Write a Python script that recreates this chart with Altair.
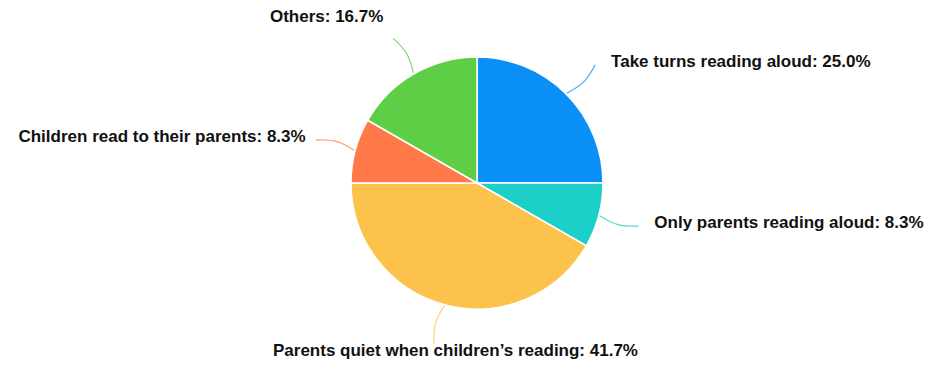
import altair as alt
import pandas as pd

categories = [
    "Take turns reading aloud",
    "Only parents reading aloud",
    "Parents quiet when children’s reading",
    "Children read to their parents",
    "Others",
]
shares = [25.0, 8.3, 41.7, 8.3, 16.7]
colors = ["#0A8FF7", "#1CCFC9", "#FCC24B", "#FF7A48", "#5DCE45"]

df = pd.DataFrame({"category": categories, "share": shares, "idx": list(range(len(categories)))})

CX, CY, R, R2 = 469, 175, 126, 167

color_scale = alt.Scale(domain=categories, range=colors)

base = alt.Chart(df).transform_joinaggregate(
    total="sum(share)"
).transform_window(
    cum="sum(share)", sort=[alt.SortField("idx")], frame=[None, 0]
).transform_calculate(
    a="2*PI*(datum.cum - datum.share/2)/datum.total"
)

arcs = alt.Chart(df).mark_arc(radius=R, stroke="white", strokeWidth=1.5).encode(
    theta=alt.Theta("share:Q", stack=True),
    color=alt.Color("category:N", scale=color_scale, legend=None),
    order=alt.Order("idx:Q"),
    x=alt.value(CX),
    y=alt.value(CY),
)

lines = base.transform_calculate(
    t="sequence(0, 3)"
).transform_flatten(["t"]).transform_calculate(
    rr=f"{R + 1} + datum.t*{(R2 - R - 1) / 2}",
    aa="datum.a + (datum.t == 1 ? 0.04 : 0)",
).transform_calculate(
    px=f"{CX} + datum.rr*sin(datum.aa)",
    py=f"{CY} - datum.rr*cos(datum.aa)",
).mark_line(strokeWidth=1.2, opacity=0.75, interpolate="basis").encode(
    x=alt.X("px:Q", scale=None, axis=None),
    y=alt.Y("py:Q", scale=None, axis=None),
    color=alt.Color("category:N", scale=color_scale, legend=None),
    detail="category:N",
    order="t:Q",
)

labels_base = base.transform_calculate(
    ex=f"{CX} + {R2}*sin(datum.a)",
    ey=f"{CY} - {R2}*cos(datum.a)",
    side="sin(datum.a) > 0.3 ? 'left' : (sin(datum.a) < -0.3 ? 'right' : 'center')",
    label="datum.category + ': ' + format(datum.share, '.1f') + '%'",
).transform_calculate(
    lx=f"datum.side == 'left' ? datum.ex + 16 : (datum.side == 'right' ? datum.ex - 10 : (datum.ex + {CX})/2)",
    ly="datum.ey + (cos(datum.a) < -0.5 ? 7 : (cos(datum.a) > 0.8 ? -21 : -3))",
)

def text_layer(align):
    return labels_base.transform_filter(f"datum.side == '{align}'").mark_text(
        align=align, baseline="middle", font="Liberation Sans", fontSize=17,
        fontWeight="bold", color="#111111",
    ).encode(
        x=alt.X("lx:Q", scale=None, axis=None),
        y=alt.Y("ly:Q", scale=None, axis=None),
        text="label:N",
    )

chart = alt.layer(
    arcs, lines, text_layer("left"), text_layer("right"), text_layer("center")
).properties(
    width=917, height=352, padding=0, autosize=alt.AutoSizeParams(type="none")
).configure_view(stroke=None)

chart.save("out.html", embed_options={"renderer": "svg", "actions": False})
